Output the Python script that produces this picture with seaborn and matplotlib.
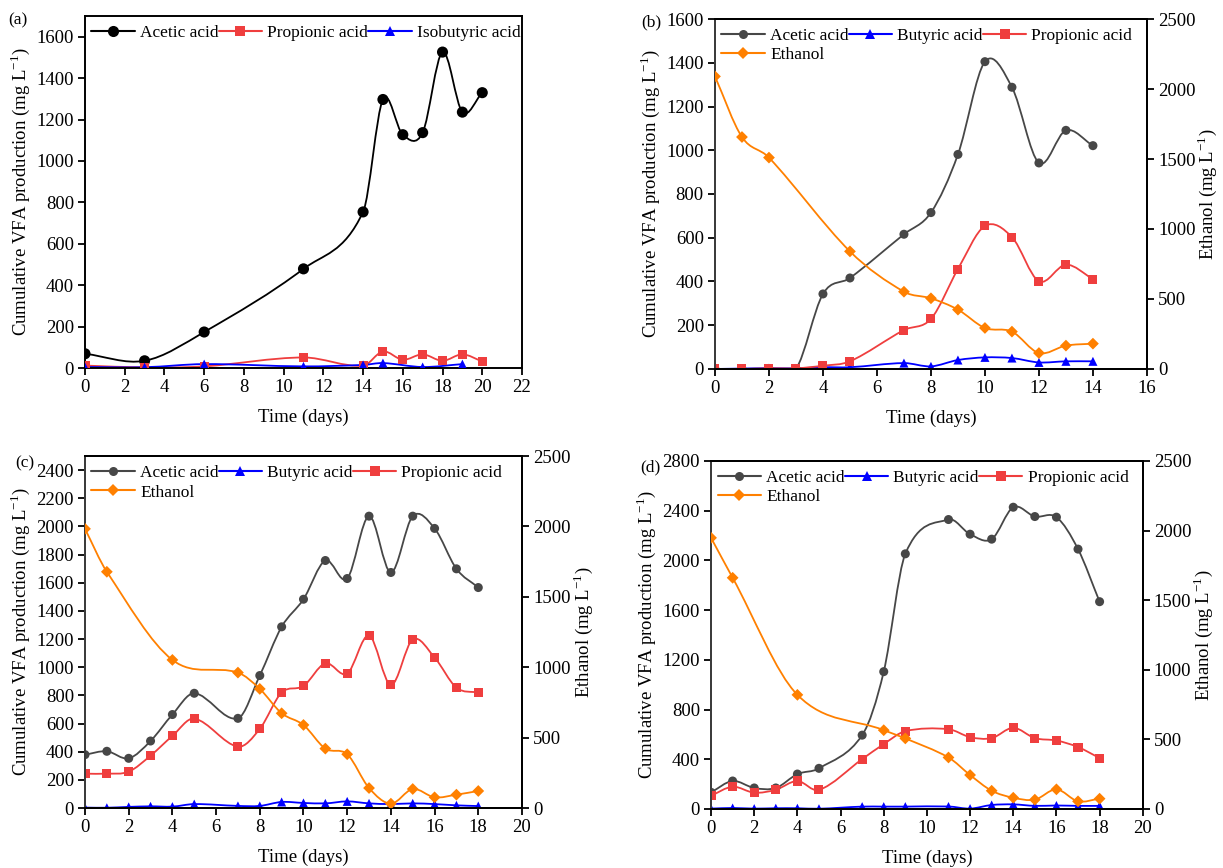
import numpy as np
import matplotlib
matplotlib.use("Agg")
from matplotlib import pyplot as plt
from matplotlib.path import Path
from matplotlib.patches import PathPatch
from matplotlib.lines import Line2D
import seaborn as sns

# panel (a)
a_day = [0, 3, 6, 11, 14, 15, 16, 17, 18, 19, 20]
a_acetic = [69, 35, 174, 479, 754, 1297, 1127, 1137, 1526, 1236, 1330]
a_propionic = [12, 3, 8, 51, 11, 80, 40, 66, 35, 66, 32]
a_iso_day = [0, 3, 6, 11, 14, 15, 17, 19]
a_isobutyric = [5, 4, 19, 8, 15, 24, 5, 19]

# panel (b)
b_day = [0, 1, 2, 3, 4, 5, 7, 8, 9, 10, 11, 12, 13, 14]
b_acetic = [0, 0, 0, 0, 343, 416, 616, 715, 981, 1405, 1288, 942, 1091, 1021]
b_butyric = [0, 2, 4, 3, 8, 8, 27, 12, 41, 53, 50, 30, 35, 35]
b_propionic = [0, 0, 3, 3, 15, 35, 178, 229, 457, 654, 603, 401, 477, 411]
b_eth_day = [0, 1, 2, 5, 7, 8, 9, 10, 11, 12, 13, 14]
b_ethanol = [2090, 1657, 1510, 840, 552, 505, 424, 293, 267, 114, 167, 181]

# panel (c)
c_day = [0, 1, 2, 3, 4, 5, 7, 8, 9, 10, 11, 12, 13, 14, 15, 16, 17, 18]
c_acetic = [379, 403, 353, 476, 664, 815, 637, 941, 1287, 1483, 1758, 1630, 2073, 1673, 2073, 1986, 1699, 1566]
c_butyric = [3, 2, 8, 12, 10, 28, 15, 15, 43, 36, 33, 47, 33, 28, 33, 28, 19, 14]
c_propionic = [244, 244, 258, 372, 512, 635, 436, 562, 820, 867, 1028, 955, 1225, 874, 1197, 1069, 855, 820]
c_eth_day = [0, 1, 4, 7, 8, 9, 10, 11, 12, 13, 14, 15, 16, 17, 18]
c_ethanol = [1983, 1678, 1052, 962, 846, 673, 590, 422, 382, 142, 31, 135, 76, 95, 121]

# panel (d)
d_day = [0, 1, 2, 3, 4, 5, 7, 8, 9, 11, 12, 13, 14, 15, 16, 17, 18]
d_acetic = [134, 225, 169, 169, 281, 327, 594, 1105, 2053, 2329, 2211, 2171, 2428, 2353, 2348, 2091, 1668]
d_butyric = [3, 8, 3, 6, 6, 2, 19, 19, 19, 20, 3, 32, 37, 25, 28, 25, 25]
d_propionic = [107, 179, 131, 155, 225, 153, 401, 522, 626, 642, 578, 570, 653, 570, 551, 498, 410]
d_eth_day = [0, 1, 4, 8, 9, 11, 12, 13, 14, 15, 16, 17, 18]
d_ethanol = [1948, 1661, 820, 566, 507, 370, 244, 131, 81, 67, 141, 55, 74]

GREY = "#474747"
BLUE = "#0000ff"
RED = "#ef3e3e"
ORANGE = "#ff8000"

sns.set_style("ticks", {"axes.edgecolor": "black", "xtick.color": "black", "ytick.color": "black"})
plt.rcParams["font.family"] = ["Liberation Serif", "DejaVu Serif"]
plt.rcParams["mathtext.fontset"] = "custom"
plt.rcParams["mathtext.rm"] = "Liberation Serif"
plt.rcParams["text.color"] = "black"
plt.rcParams["axes.labelcolor"] = "black"

FS = 12.5      # legend / panel letters
TFS = 13.5     # tick labels and axis titles
VFA_LABEL = "Cumulative VFA production (mg L$^{\\mathregular{-1}}$)"
ETH_LABEL = "Ethanol (mg L$^{\\mathregular{-1}}$)"


def spline_path(x, y):
    # smooth Hermite curve through the points (like Origin's spline connector)
    x = np.asarray(x, float)
    y = np.asarray(y, float)
    s = np.empty(len(x))
    s[0] = (y[1] - y[0]) / (x[1] - x[0])
    s[-1] = (y[-1] - y[-2]) / (x[-1] - x[-2])
    s[1:-1] = (y[2:] - y[:-2]) / (x[2:] - x[:-2])
    verts = [(x[0], y[0])]
    codes = [Path.MOVETO]
    for i in range(len(x) - 1):
        h = x[i + 1] - x[i]
        verts += [(x[i] + h / 3, y[i] + s[i] * h / 3),
                  (x[i + 1] - h / 3, y[i + 1] - s[i + 1] * h / 3),
                  (x[i + 1], y[i + 1])]
        codes += [Path.CURVE4] * 3
    return Path(verts, codes)


def series(ax, x, y, color, marker, ms=6.5):
    ax.add_patch(PathPatch(spline_path(x, y), fc="none", ec=color, lw=1.3, zorder=2))
    sns.scatterplot(x=x, y=y, ax=ax, color=color, marker=marker, s=ms ** 2,
                    edgecolor="none", linewidth=0, zorder=3, legend=False)
    return Line2D([], [], color=color, lw=1.5, marker=marker, markersize=ms, markeredgewidth=0)


def style(ax, xmax, ymax, yticks):
    ax.set_xlim(0, xmax)
    ax.set_xticks(range(0, xmax + 1, 2))
    ax.set_ylim(0, ymax)
    ax.set_yticks(yticks)
    ax.set_xlabel("Time (days)", fontsize=TFS, labelpad=9)
    ax.set_ylabel(VFA_LABEL, fontsize=TFS, labelpad=3)
    ax.tick_params(direction="out", length=5, width=1.3, labelsize=TFS, pad=3)
    for sp in ax.spines.values():
        sp.set_linewidth(1.4)


def legend(ax, handles, labels):
    ax.legend(handles, labels, loc="upper left", bbox_to_anchor=(-0.005, 1.0), ncol=3,
              frameon=False, fontsize=FS, handlelength=2.5, handletextpad=0.3,
              columnspacing=0.0, labelspacing=0.2, borderaxespad=0.2, borderpad=0.3)


def twin(ax):
    ax2 = ax.twinx()
    ax2.set_ylim(0, 2500)
    ax2.set_yticks(range(0, 2501, 500))
    ax2.set_ylabel(ETH_LABEL, fontsize=TFS, labelpad=0)
    ax2.tick_params(direction="out", length=5, width=1.3, labelsize=TFS, pad=3)
    for sp in ax2.spines.values():
        sp.set_linewidth(1.4)
    ax2.spines["left"].set_color("#3c3c3c")
    return ax2


fig = plt.figure(figsize=(12.23, 8.68), dpi=100)

# (a)
ax_a = fig.add_axes([0.0695, 0.576, 0.3573, 0.4055])
h1 = series(ax_a, a_day, a_acetic, "black", "o", ms=8)
h2 = series(ax_a, a_day, a_propionic, RED, "s")
h3 = series(ax_a, a_iso_day, a_isobutyric, BLUE, "^")
style(ax_a, 22, 1700, range(0, 1601, 200))
legend(ax_a, [h1, h2, h3], ["Acetic acid", "Propionic acid", "Isobutyric acid"])

# (b), (c), (d)
panels = [
    ([0.5846, 0.5749, 0.3532, 0.4032], b_day, b_acetic, b_butyric, b_propionic,
     b_eth_day, b_ethanol, 16, 1600, range(0, 1601, 200)),
    ([0.0695, 0.0691, 0.3573, 0.4055], c_day, c_acetic, c_butyric, c_propionic,
     c_eth_day, c_ethanol, 20, 2500, range(0, 2401, 200)),
    ([0.5814, 0.0680, 0.3530, 0.4009], d_day, d_acetic, d_butyric, d_propionic,
     d_eth_day, d_ethanol, 20, 2800, range(0, 2801, 400)),
]
for rect, day, ace, but, pro, eday, eth, xmax, ymax, yt in panels:
    ax = fig.add_axes(rect)
    ha = series(ax, day, ace, GREY, "o")
    hb = series(ax, day, but, BLUE, "^")
    hp = series(ax, day, pro, RED, "s")
    style(ax, xmax, ymax, yt)
    ax.spines["left"].set_color("#3c3c3c")
    ax2 = twin(ax)
    he = series(ax2, eday, eth, ORANGE, "D", ms=6)
    legend(ax2, [ha, he, hb, hp], ["Acetic acid", "Ethanol", "Butyric acid", "Propionic acid"])

for txt, x, y in [("(a)", 18, 20), ("(b)", 651, 22), ("(c)", 25, 463), ("(d)", 650, 467)]:
    fig.text(x / 1223, 1 - y / 868, txt, fontsize=FS, ha="center", va="center")

fig.savefig("out.png", dpi=100)
